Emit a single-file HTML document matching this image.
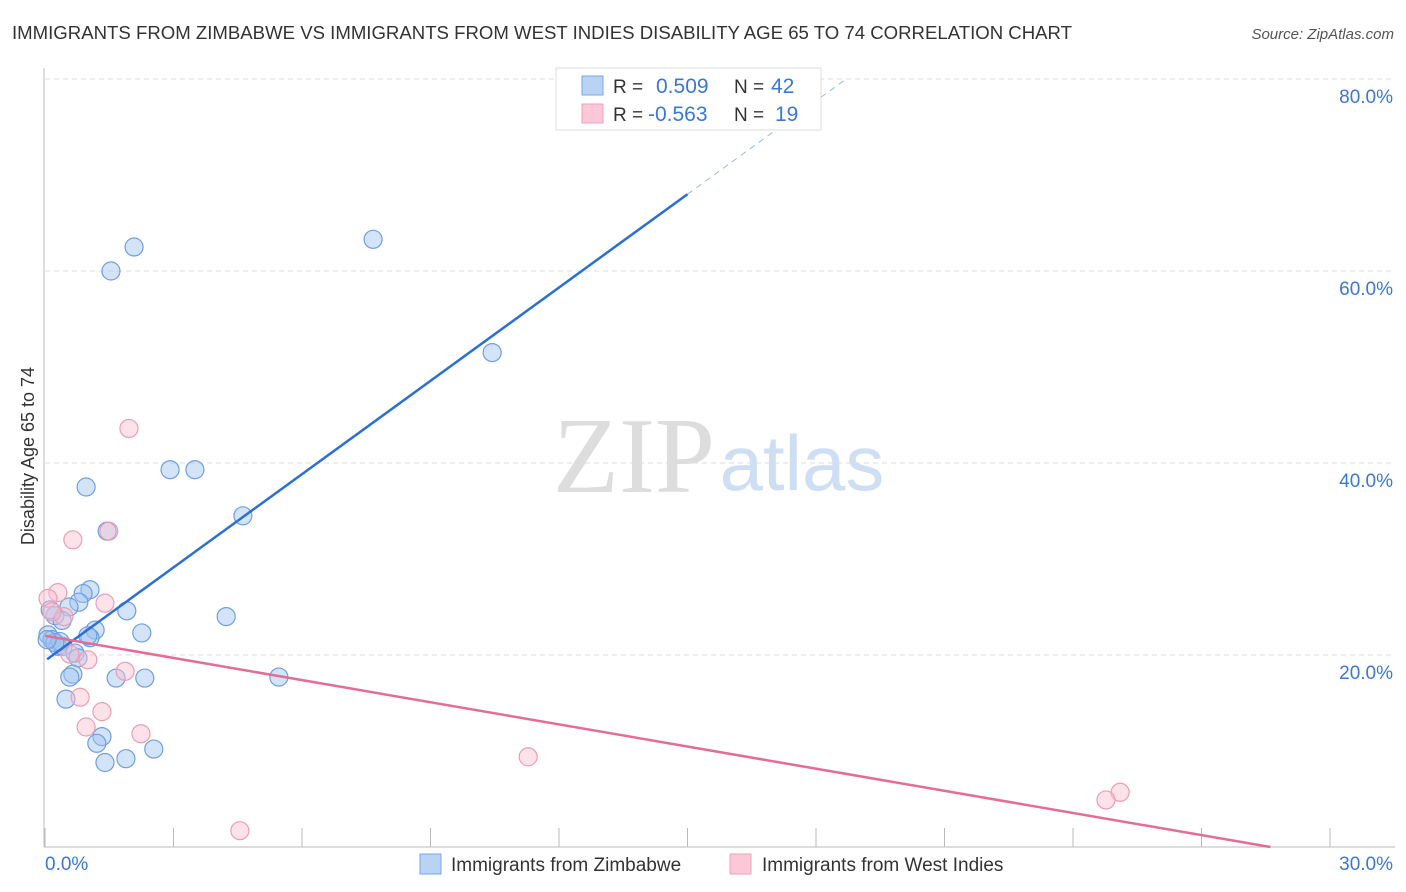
<!DOCTYPE html>
<html><head><meta charset="utf-8"><style>
body{margin:0;background:#fff;font-family:"Liberation Sans",sans-serif;}
svg{display:block}
</style></head><body>
<svg id="chart" width="1406" height="892">
<text x="12" y="39" font-size="18.6" fill="#333">IMMIGRANTS FROM ZIMBABWE VS IMMIGRANTS FROM WEST INDIES DISABILITY AGE 65 TO 74 CORRELATION CHART</text>
<text x="1394" y="39" font-size="15" fill="#555" font-style="italic" text-anchor="end">Source: ZipAtlas.com</text>
<text x="634" y="492" font-size="108" fill="#ddd" font-family="Liberation Serif,serif" text-anchor="middle">ZIP</text>
<text x="802" y="490" font-size="78" fill="#cfdff3" text-anchor="middle">atlas</text>
<text transform="translate(34,456) rotate(-90)" font-size="18" fill="#333" text-anchor="middle">Disability Age 65 to 74</text>
<g id="grid"></g><g id="axes"></g><g id="marks"></g>
<g>
<rect x="556" y="68" width="265" height="62" fill="#fff" stroke="#ddd"/>
<rect x="582" y="76" width="21" height="19" fill="#b9d3f5" stroke="#7aa6e6"/>
<rect x="582" y="104" width="21" height="19" fill="#fcc8d8" stroke="#eea1b8"/>
<text x="613" y="93" font-size="19" fill="#333">R =</text>
<text x="656" y="93" font-size="21" fill="#3a78d4">0.509</text>
<text x="734" y="93" font-size="19" fill="#333">N =</text>
<text x="771" y="93" font-size="21" fill="#3a78d4">42</text>
<text x="613" y="121" font-size="19" fill="#333">R =</text>
<text x="648" y="121" font-size="21" fill="#3a78d4">-0.563</text>
<text x="734" y="121" font-size="19" fill="#333">N =</text>
<text x="775" y="121" font-size="21" fill="#3a78d4">19</text>
</g>
<g>
<rect x="420" y="854" width="21" height="20" fill="#b9d3f5" stroke="#7aa6e6"/>
<text x="451" y="871" font-size="19" fill="#333">Immigrants from Zimbabwe</text>
<rect x="730" y="854" width="21" height="20" fill="#fcc8d8" stroke="#eea1b8"/>
<text x="762" y="871" font-size="19" fill="#333">Immigrants from West Indies</text>
</g>
</svg>
<script>
const blueX=[2.08,1.54,7.66,10.44,2.92,3.50,0.96,4.62,1.45,1.05,0.89,0.79,0.56,1.91,4.23,0.23,2.26,1.17,1.05,0.07,0.16,0.30,0.42,0.70,0.77,0.65,0.58,1.66,2.33,5.46,0.49,1.33,1.21,2.54,1.89,1.40,0.12,0.35,1.00,0.23,0.05,0.40];
const blueY=[62.5,60.0,63.3,51.5,39.3,39.3,37.5,34.5,32.9,26.8,26.4,25.5,25.0,24.6,24.0,24.1,22.3,22.6,21.8,22.1,21.6,20.9,20.9,20.2,19.7,18.0,17.7,17.6,17.6,17.7,15.4,11.5,10.8,10.2,9.2,8.8,24.7,21.4,22.0,21.3,21.6,23.6];
const pinkX=[1.96,0.65,1.49,0.30,0.07,1.40,0.44,0.16,0.58,1.00,1.87,0.82,0.96,1.33,2.24,11.28,25.10,24.77,4.55];
const pinkY=[43.6,32.0,32.9,26.5,25.9,25.4,24.0,24.5,20.1,19.5,18.3,15.6,12.5,14.1,11.8,9.4,5.7,4.9,1.7];
const blueTrend=[19.4,3.24];
const pinkTrend=[22.0,-0.769];
const yTicks=[20,40,60,80];
const xTickLabels=["0.0%","30.0%"];
const NS="http://www.w3.org/2000/svg";
const X=v=>45+v*1285/30, Y=v=>847-v*192/20;
function mk(tag,attrs,parent){const e=document.createElementNS(NS,tag);for(const k in attrs)e.setAttribute(k,attrs[k]);document.getElementById(parent).appendChild(e);return e;}
yTicks.forEach(t=>{
 const l=mk('line',{x1:45,x2:1395,y1:Y(t),y2:Y(t),stroke:'#ddd','stroke-dasharray':'5,4'},'grid');
 
 
 const tx=mk('text',{x:1393,y:Y(t)+24,'font-size':19,fill:'#3a78d4','text-anchor':'end'},'grid');
 tx.textContent=t.toFixed(1)+'%';
 
 
});
let a=mk('line',{x1:44,x2:44,y1:68,y2:847,stroke:'#bbb'},'axes');


a=mk('line',{x1:44,x2:1395,y1:847,y2:847,stroke:'#bbb'},'axes');


for(let i=0;i<=10;i++){
 const t=mk('line',{x1:X(i*3),x2:X(i*3),y1:828,y2:847,stroke:'#bbb'},'axes');
 
 
}
[[0,'start',45],[30,'end',1393]].forEach((d,i)=>{
 const t=mk('text',{x:d[2],y:870,'font-size':19,fill:'#3a78d4','text-anchor':d[1]},'axes');
 t.textContent=xTickLabels[i];
 
 
});
blueX.forEach((x,i)=>{
 const c=mk('circle',{cx:X(x),cy:Y(blueY[i]),r:9,fill:'rgba(160,196,240,0.45)',stroke:'#6f9fe0','stroke-width':1.2},'marks');
 
 
});
pinkX.forEach((x,i)=>{
 const c=mk('circle',{cx:X(x),cy:Y(pinkY[i]),r:9,fill:'rgba(250,190,208,0.45)',stroke:'#ec9db5','stroke-width':1.2},'marks');
 
 
});
const bf=x=>blueTrend[0]+blueTrend[1]*x, pf=x=>pinkTrend[0]+pinkTrend[1]*x;
let l=mk('line',{x1:X(0.05),y1:Y(bf(0.05)),x2:X(15),y2:Y(bf(15)),stroke:'#2a6fd6','stroke-width':2.5},'marks');


const xe=(80-blueTrend[0])/blueTrend[1];
l=mk('line',{x1:X(15),y1:Y(bf(15)),x2:X(xe),y2:Y(bf(xe)),stroke:'#9bb8e6','stroke-width':1,'stroke-dasharray':'6,5'},'marks');


const pe=-pinkTrend[0]/pinkTrend[1];
l=mk('line',{x1:X(0),y1:Y(pf(0)),x2:X(pe),y2:Y(pf(pe)),stroke:'#e66b96','stroke-width':2.5},'marks');


</script>
</body></html>
